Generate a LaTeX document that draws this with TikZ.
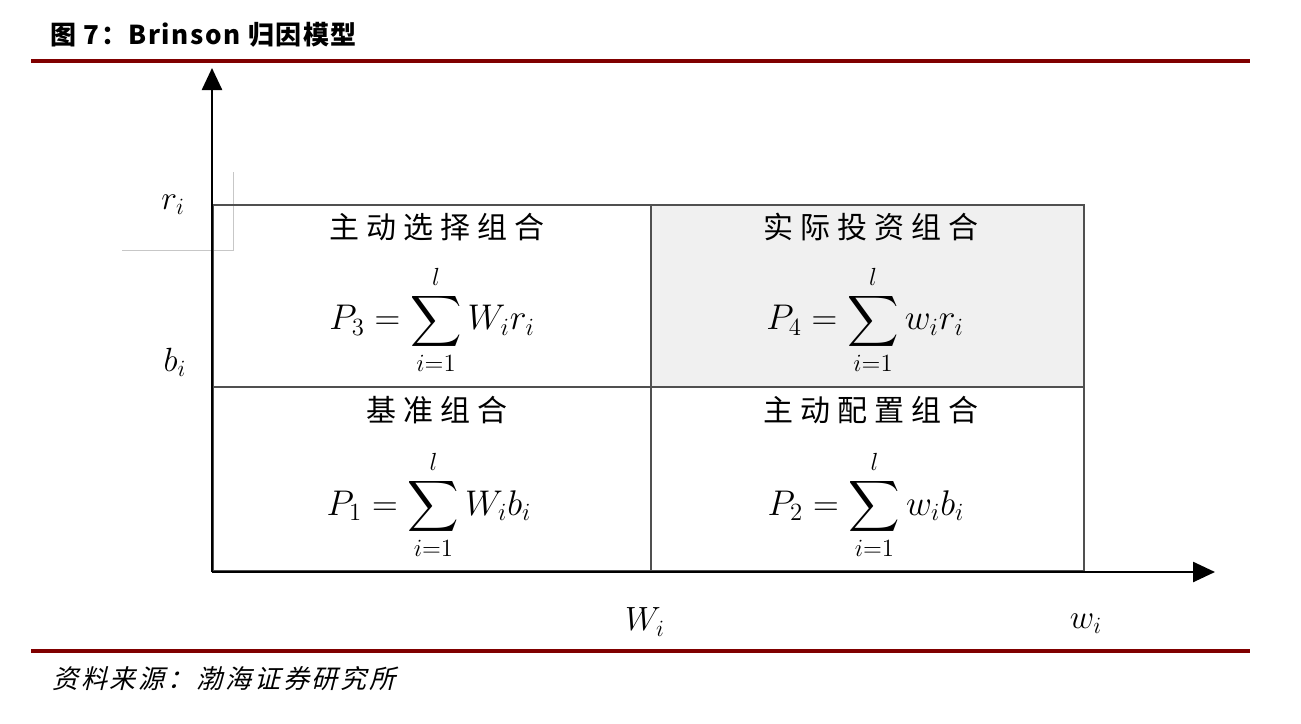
\documentclass[tikz,border=0pt]{standalone}
\usepackage{fontspec}
\usepackage{amsmath}
\newfontfamily\cjk{Noto Sans CJK SC}[LetterSpace=24]
\newfontfamily\cjktitle{Noto Sans CJK SC}[LetterSpace=6]
\newfontfamily\cjkit{Noto Sans CJK SC}[FakeSlant=0.25,LetterSpace=11]
\usetikzlibrary{arrows.meta}
\definecolor{rulered}{RGB}{128,0,0}
\definecolor{gridline}{RGB}{80,80,80}
\definecolor{cellgray}{RGB}{240,240,240}
\tikzset{
  rulebar/.style={draw=rulered, line width=3.5pt},
  axis/.style={draw=black, line width=2.5pt, -{Triangle[width=20pt,length=22pt]}},
  cell/.style={draw=gridline, line width=2pt, rectangle, inner sep=0pt, minimum width=#1},
  celltitle/.style={font=\cjk\fontsize{30}{32}\selectfont, inner sep=0pt},
  formula/.style={font=\fontsize{20}{24}\selectfont, inner sep=0pt, scale=1.72},
  axlabel/.style={font=\fontsize{20}{24}\selectfont, inner sep=0pt, scale=1.62},
  faint/.style={draw=black!22, line width=0.8pt}
}
\begin{document}
\begin{tikzpicture}[x=1pt,y=-1pt]
\useasboundingbox (0,0) rectangle (1301,723);
% title
\node[anchor=west, inner sep=0pt, font=\cjktitle\bfseries\fontsize{26}{28}\selectfont] (title) at (50,35) {图 7：Brinson 归因模型};
\coordinate (tl) at (31,61); \coordinate (tr) at (1250,61);
\draw[rulebar] (tl) -- (tr);
\coordinate (bl) at (31,651); \coordinate (br) at (1250,651);
\draw[rulebar] (bl) -- (br);
% faint box around r_i
\coordinate (fa) at (233,172); \coordinate (fb) at (233,250); \coordinate (fc) at (122,250);
\draw[faint] (fa) -- (fb) -- (fc);
% cells
\node[cell=438pt, minimum height=182pt, anchor=north west] (c3) at (212,204) {};
\node[cell=433pt, minimum height=182pt, anchor=north west, fill=cellgray] (c4) at (650,204) {};
\node[cell=438pt, minimum height=184pt, anchor=north west] (c1) at (212,386) {};
\node[cell=433pt, minimum height=184pt, anchor=north west] (c2) at (650,386) {};
% axes
\coordinate (o) at (212,572);
\coordinate (ytip) at (212,68);
\coordinate (xtip) at (1215,572);
\draw[axis] (o) -- (ytip);
\draw[axis] (o) -- (xtip);
% cell texts
\node[celltitle] (t3) at (437,227) {主动选择组合};
\node[celltitle] (t4) at (871,227) {实际投资组合};
\node[celltitle] (t1) at (437,410) {基准组合};
\node[celltitle] (t2) at (871,410) {主动配置组合};
\node[formula] (f3) at (432,320) {$\displaystyle P_3=\sum_{i=1}^{l}W_i r_i$};
\node[formula] (f4) at (865,320) {$\displaystyle P_4=\sum_{i=1}^{l}w_i r_i$};
\node[formula] (f1) at (429,505) {$\displaystyle P_1=\sum_{i=1}^{l}W_i b_i$};
\node[formula] (f2) at (866,505) {$\displaystyle P_2=\sum_{i=1}^{l}w_i b_i$};
% axis labels
\node[axlabel] (lr) at (173,205) {$r_i$};
\node[axlabel] (lb) at (175,362) {$b_i$};
\node[axlabel] (lW) at (645,622) {$W_i$};
\node[axlabel] (lw) at (1086,624) {$w_i$};
% source
\node[anchor=west, inner sep=0pt, font=\cjkit\fontsize{26}{28}\selectfont] (src) at (52,679) {资料来源：渤海证券研究所};
\end{tikzpicture}
\end{document}
